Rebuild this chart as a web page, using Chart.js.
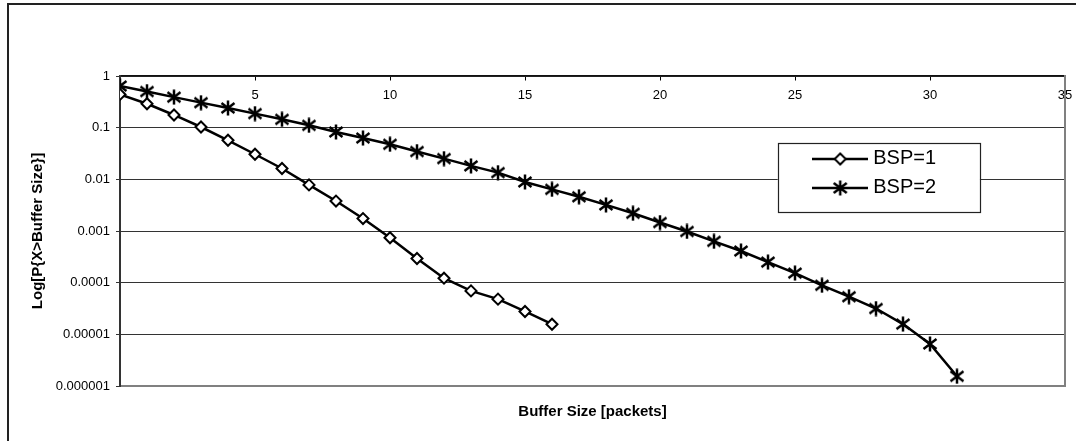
<!DOCTYPE html>
<html>
<head>
<meta charset="utf-8">
<script src="https://cdn.jsdelivr.net/npm/chart.js@4/dist/chart.umd.min.js"></script>
<style>
  html, body { margin: 0; padding: 0; background: #fff; overflow: hidden; }
  #wrap { position: relative; width: 1076px; height: 441px; overflow: hidden; }
  #frame { position: absolute; left: 7px; top: 3px; width: 2000px; height: 2000px;
           border-left: 2px solid #222; border-top: 2px solid #222; }
  #myChart { position: absolute; left: 0; top: 0; }
</style>
</head>
<body>
<div id="wrap">
  <div id="frame"></div>
  <canvas id="myChart" width="1076" height="441"></canvas>
</div>
<script>
// data
let seriesNames = ['BSP=1', 'BSP=2'];
let bufferSize1 = [0, 1, 2, 3, 4, 5, 6, 7, 8, 9, 10, 11, 12, 13, 14, 15, 16];
let bsp1 = [0.44, 0.29, 0.176, 0.103, 0.057, 0.0306, 0.0162, 0.0078, 0.0038, 0.00174,
            0.00074, 0.000294, 0.000122, 0.0000693, 0.000048, 0.0000277, 0.0000157];
let bufferSize2 = [0, 1, 2, 3, 4, 5, 6, 7, 8, 9, 10, 11, 12, 13, 14, 15, 16, 17, 18, 19, 20,
                   21, 22, 23, 24, 25, 26, 27, 28, 29, 30, 31];
let bsp2 = [0.64, 0.5, 0.39, 0.305, 0.24, 0.187, 0.145, 0.111, 0.0826, 0.063, 0.0477,
            0.0345, 0.0252, 0.0182, 0.0135, 0.0089, 0.0064, 0.0046, 0.0032, 0.0022, 0.00146,
            0.00098, 0.00063, 0.00041, 0.00025, 0.000153, 0.000089, 0.0000535, 0.0000316,
            0.0000158, 0.0000065, 0.00000154];
let xTicks = [5, 10, 15, 20, 25, 30, 35];
let xTickLabels = ['5', '10', '15', '20', '25', '30', '35'];
let yTicks = [0.000001, 0.00001, 0.0001, 0.001, 0.01, 0.1, 1];
let yTickLabels = ['0.000001', '0.00001', '0.0001', '0.001', '0.01', '0.1', '1'];

Chart.defaults.font.family = '"Liberation Sans", Arial, sans-serif';
Chart.defaults.color = '#000';

// excel style asterisk marker
function starMarker(size) {
  let c = document.createElement('canvas');
  c.width = size; c.height = size;
  let g = c.getContext('2d');
  g.strokeStyle = '#000';
  g.lineWidth = 2.5;
  let m = size / 2;
  g.beginPath();
  g.moveTo(m, 0.5); g.lineTo(m, size - 0.5);
  g.moveTo(1.5, 3); g.lineTo(size - 1.5, size - 3);
  g.moveTo(1.5, size - 3); g.lineTo(size - 1.5, 3);
  g.stroke();
  return c;
}

function legendSample(kind) {
  let c = document.createElement('canvas');
  c.width = 56; c.height = 18;
  let g = c.getContext('2d');
  g.strokeStyle = '#000';
  g.lineWidth = 2.5;
  g.beginPath(); g.moveTo(0, 9); g.lineTo(56, 9); g.stroke();
  if (kind === 'diamond') {
    g.fillStyle = '#fff';
    g.lineWidth = 2;
    g.beginPath();
    g.moveTo(28, 3.5); g.lineTo(33.5, 9); g.lineTo(28, 14.5); g.lineTo(22.5, 9);
    g.closePath();
    g.fill(); g.stroke();
  } else {
    g.drawImage(starMarker(16), 20, 1);
  }
  return c;
}

let starImg = starMarker(16);
let legendSamples = [legendSample('diamond'), legendSample('star')];

// legend sits inside the plot with a white framed box
const legendFrame = {
  id: 'legendFrame',
  afterLayout(chart) {
    let ca = chart.chartArea, lg = chart.legend;
    let bx = ca.left + ca.width * 0.696;
    let by = ca.top + ca.height * 0.216;
    chart.$legendBox = { x: bx, y: by, w: ca.width * 0.214, h: ca.height * 0.223 };
    lg.left = bx + 30.5;
    lg.top = by - 3;
    lg.right = lg.left + 180;
    lg.bottom = lg.top + 100;
  },
  beforeDatasetsDraw(chart) {
    let b = chart.$legendBox, ctx = chart.ctx;
    ctx.save();
    ctx.fillStyle = '#fff';
    ctx.fillRect(b.x, b.y, b.w, b.h);
    ctx.strokeStyle = '#222';
    ctx.lineWidth = 1.2;
    ctx.strokeRect(Math.round(b.x) + 0.5, Math.round(b.y) + 0.5, Math.round(b.w), Math.round(b.h));
    ctx.restore();
    chart.legend.draw();
  }
};

let ctx = document.getElementById('myChart').getContext('2d');

let myChart = new Chart(ctx, {
  type: 'line',
  data: {
    datasets: [{
      label: seriesNames[0],
      data: bufferSize1.map((x, i) => ({ x: x, y: bsp1[i] })),
      xAxisID: 'x',
      yAxisID: 'y',
      borderColor: '#000',
      borderWidth: 2.5,
      tension: 0,
      pointStyle: 'rectRot',
      pointRadius: 5.5,
      pointBackgroundColor: '#fff',
      pointBorderColor: '#000',
      pointBorderWidth: 2
    }, {
      label: seriesNames[1],
      data: bufferSize2.map((x, i) => ({ x: x, y: bsp2[i] })),
      xAxisID: 'x',
      yAxisID: 'y',
      borderColor: '#000',
      borderWidth: 2.5,
      tension: 0,
      pointStyle: starImg,
      pointRadius: 8
    }]
  },
  options: {
    responsive: false,
    animation: false,
    layout: { padding: { left: 0, top: 76, right: 11, bottom: 0 } },
    plugins: {
      tooltip: { enabled: false },
      legend: {
        position: 'chartArea',
        align: 'start',
        labels: {
          usePointStyle: true,
          pointStyleWidth: 46,
          padding: 9,
          color: '#000',
          font: { size: 20 },
          generateLabels: () => seriesNames.map((t, i) => ({
            text: t, pointStyle: legendSamples[i], datasetIndex: i, hidden: false, lineWidth: 0
          }))
        }
      }
    },
    scales: {
      x: {
        type: 'linear',
        axis: 'x',
        position: { y: 1 },
        min: 0,
        max: 35,
        afterBuildTicks: (s) => { s.ticks = xTicks.map(v => ({ value: v })); },
        afterFit: (s) => { s.paddingLeft = 0; s.paddingRight = 0; },
        ticks: {
          callback: (v, i) => xTickLabels[i],
          font: { size: 13 },
          color: '#000',
          padding: 8,
          maxRotation: 0,
          autoSkip: false
        },
        grid: { drawOnChartArea: false, tickLength: 4, color: '#000', lineWidth: 1 },
        border: { color: '#111', width: 1.5 }
      },
      x2: {
        type: 'linear',
        axis: 'x',
        position: 'bottom',
        min: 0,
        max: 35,
        ticks: { display: false },
        grid: { drawOnChartArea: false, drawTicks: false },
        border: { color: '#808080', width: 2 },
        title: {
          display: true,
          text: 'Buffer Size [packets]',
          color: '#000',
          font: { size: 15, weight: 'bold' },
          padding: { top: 0, bottom: 20 }
        },
        afterFit: (s) => { s.height = 55; s.paddingLeft = 0; s.paddingRight = 0; }
      },
      y: {
        type: 'logarithmic',
        position: 'left',
        min: 0.000001,
        max: 1,
        afterBuildTicks: (s) => { s.ticks = yTicks.map(v => ({ value: v })); },
        ticks: {
          callback: (v, i) => yTickLabels[i],
          font: { size: 13 },
          color: '#000',
          padding: 6,
          autoSkip: false
        },
        grid: { color: '#333', lineWidth: 1, tickLength: 4, z: -1 },
        border: { color: '#333', width: 2 },
        title: {
          display: true,
          text: 'Log[P{X>Buffer Size}]',
          color: '#000',
          font: { size: 15, weight: 'bold' },
          padding: { top: 29, bottom: 0 }
        },
        afterFit: (s) => { s.width = 120; }
      },
      y2: {
        type: 'linear',
        axis: 'y',
        position: 'right',
        min: 0,
        max: 1,
        ticks: { display: false },
        grid: { drawOnChartArea: false, drawTicks: false },
        border: { color: '#808080', width: 2 },
        afterFit: (s) => { s.width = 0; }
      }
    }
  },
  plugins: [legendFrame]
});
</script>
</body>
</html>
